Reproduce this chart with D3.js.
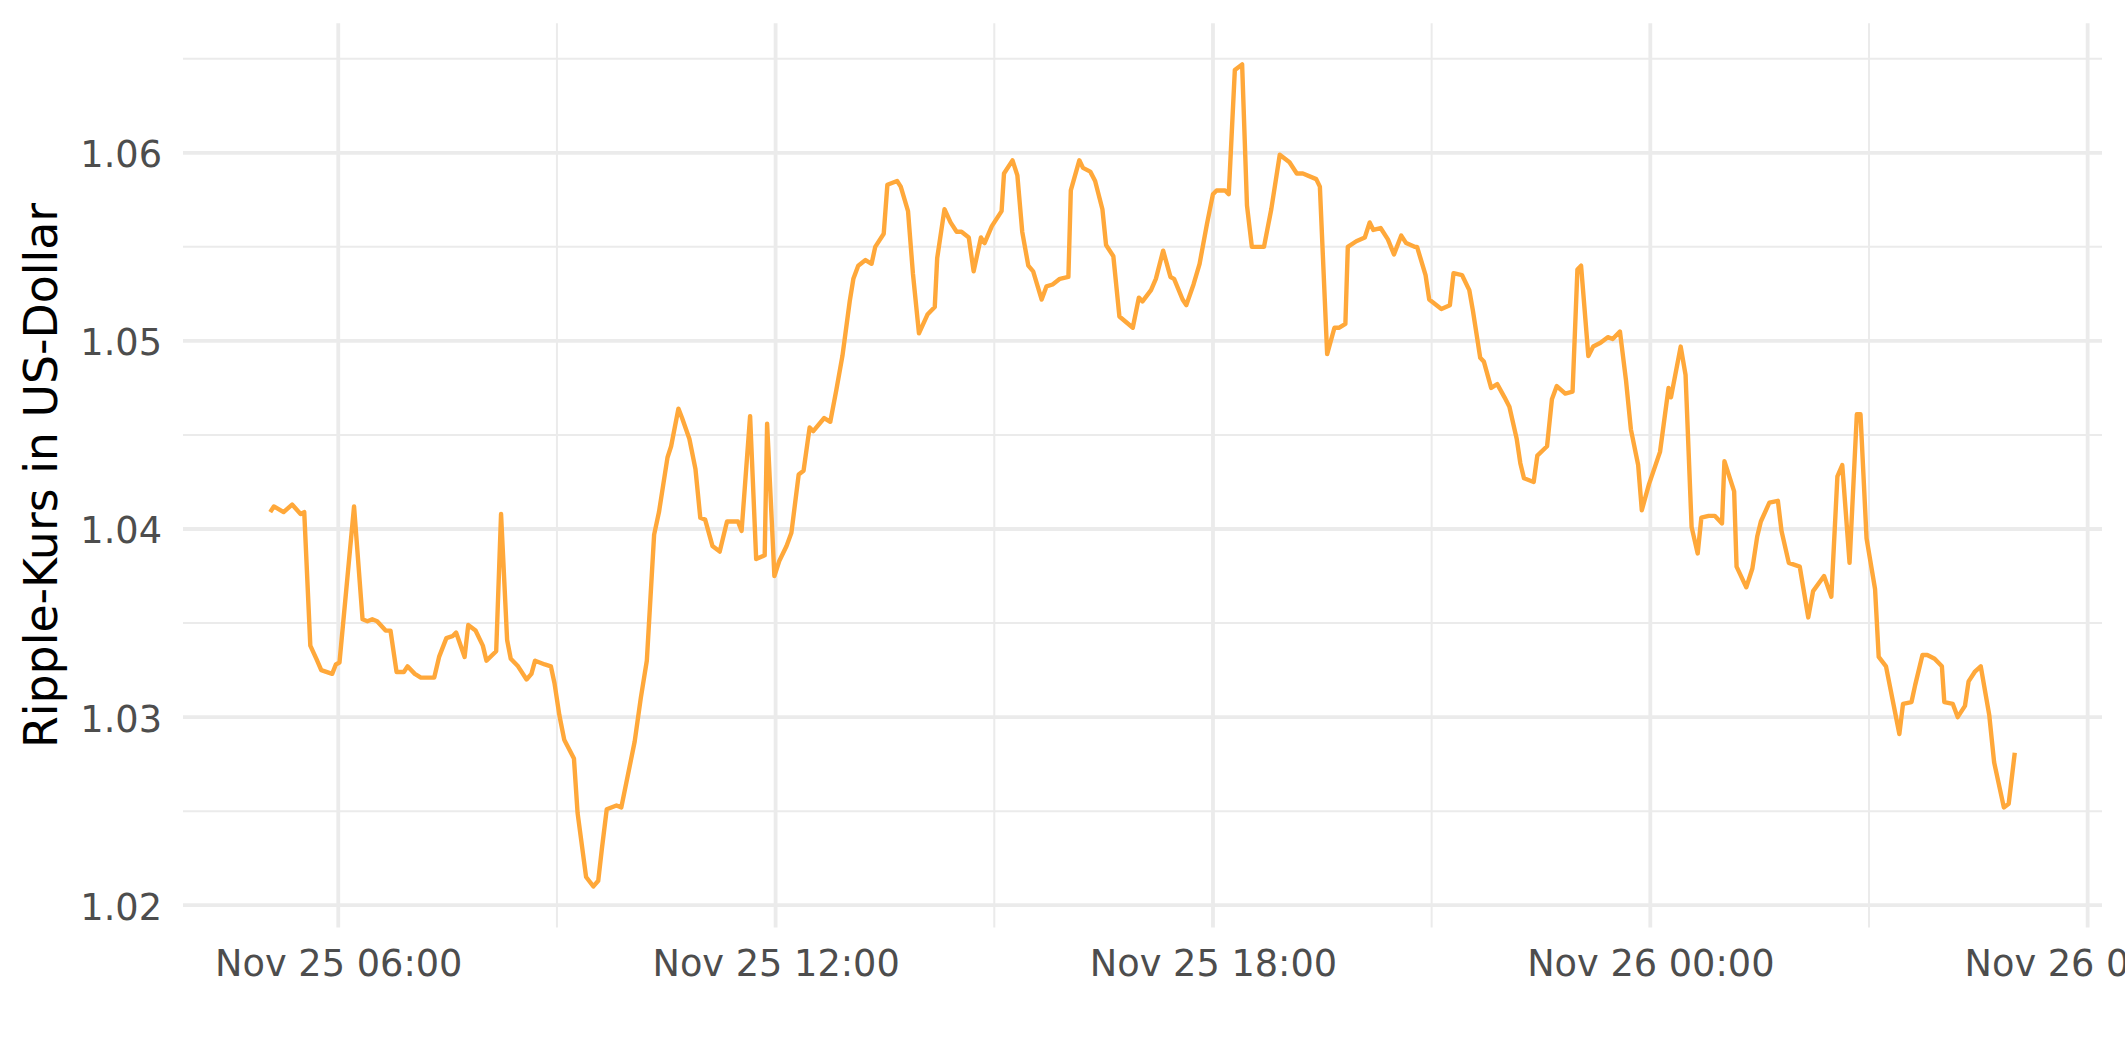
<!DOCTYPE html>
<html>
<head>
<meta charset="utf-8">
<script src="https://cdn.jsdelivr.net/npm/d3@7"></script>
<style>
  html, body { margin: 0; padding: 0; background: #ffffff; }
  svg { display: block; }
</style>
</head>
<body>
<svg id="chart" width="2125" height="1062"></svg>
<script>
// ---- DATA ----
// minutes relative to Nov 25, 06:00
const offsetsMin = [
  -56,-53,-45,-38,-31,-28,-23,-18,-14,-5,-2,1,13,20,24,28,32,39,43,48,54,57,63,68,73,79,83,89,94,97,
  104,107,113,119,122,130,134,139,142,148,155,159,162,170,175,178,182,186,194,197,204,210,214,217,221,229,233,244,249,254,
  260,264,271,274,280,283,289,294,298,302,308,314,320,329,332,339,344,351,353,359,363,369,373,379,383,388,391,400,405,410,
  415,421,424,428,434,439,442,449,452,460,463,469,473,478,485,491,493,499,504,509,513,519,523,529,532,538,546,548,555,559,
  563,568,572,579,583,588,594,601,603,610,613,619,623,629,632,638,643,654,659,662,669,673,679,685,688,695,698,704,709,715,
  720,723,730,733,738,744,748,752,762,768,775,783,789,794,805,808,814,820,824,829,831,838,845,849,852,858,864,869,875,879,
  886,888,895,898,908,915,918,925,931,934,940,943,949,954,960,964,970,973,976,984,987,995,999,1003,1010,1016,1020,1023,1029,1033,
  1039,1045,1049,1055,1060,1064,1070,1073,1079,1088,1095,1097,1105,1109,1114,1119,1122,1128,1133,1139,1141,1149,1151,1159,1164,1168,1171,1178,1185,1188,
  1194,1203,1210,1214,1223,1229,1234,1238,1244,1250,1253,1258,1265,1268,1274,1285,1288,1295,1298,1304,1308,1314,1320,1322,1329,1333,1339,1342,1347,1352,
  1359,1363,1371,1375,1380
];
const price = [
  1.0409,1.0412,1.0409,1.0413,1.0408,1.0409,1.0338,1.0331,1.0325,1.0323,1.0328,1.0329,1.0412,1.0352,1.0351,1.0352,1.0351,1.0346,1.0346,1.0324,1.0324,1.0327,1.0323,1.0321,1.0321,1.0321,1.0332,1.0342,1.0343,1.0345,
  1.0332,1.0349,1.0346,1.0338,1.0330,1.0335,1.0408,1.0341,1.0331,1.0327,1.0320,1.0323,1.0330,1.0328,1.0327,1.0318,1.0301,1.0288,1.0278,1.0249,1.0215,1.0210,1.0213,1.0230,1.0251,1.0253,1.0252,1.0287,1.0310,1.0330,
  1.0397,1.0409,1.0438,1.0444,1.0464,1.0459,1.0448,1.0432,1.0406,1.0405,1.0391,1.0388,1.0404,1.0404,1.0399,1.0460,1.0384,1.0386,1.0456,1.0375,1.0383,1.0391,1.0398,1.0429,1.0431,1.0454,1.0452,1.0459,1.0457,1.0474,
  1.0492,1.0521,1.0533,1.0540,1.0543,1.0541,1.0550,1.0557,1.0583,1.0585,1.0582,1.0569,1.0536,1.0504,1.0514,1.0518,1.0544,1.0570,1.0563,1.0558,1.0558,1.0555,1.0537,1.0555,1.0552,1.0561,1.0569,1.0589,1.0596,1.0588,
  1.0558,1.0540,1.0537,1.0522,1.0529,1.0530,1.0533,1.0534,1.0580,1.0596,1.0592,1.0590,1.0585,1.0570,1.0551,1.0545,1.0513,1.0507,1.0523,1.0521,1.0527,1.0533,1.0548,1.0534,1.0533,1.0522,1.0519,1.0530,1.0541,1.0562,
  1.0578,1.0580,1.0580,1.0578,1.0644,1.0647,1.0572,1.0550,1.0550,1.0570,1.0599,1.0595,1.0589,1.0589,1.0586,1.0582,1.0493,1.0507,1.0507,1.0509,1.0550,1.0553,1.0555,1.0563,1.0559,1.0560,1.0554,1.0546,1.0556,1.0552,
  1.0550,1.0550,1.0535,1.0522,1.0517,1.0519,1.0536,1.0535,1.0527,1.0516,1.0491,1.0489,1.0475,1.0477,1.0470,1.0465,1.0448,1.0435,1.0427,1.0425,1.0439,1.0444,1.0469,1.0476,1.0472,1.0473,1.0538,1.0540,1.0492,1.0497,
  1.0499,1.0502,1.0501,1.0505,1.0479,1.0453,1.0434,1.0410,1.0424,1.0441,1.0475,1.0470,1.0497,1.0482,1.0401,1.0387,1.0406,1.0407,1.0407,1.0403,1.0436,1.0420,1.0380,1.0369,1.0379,1.0396,1.0404,1.0414,1.0415,1.0399,
  1.0382,1.0380,1.0353,1.0367,1.0375,1.0364,1.0428,1.0434,1.0382,1.0461,1.0461,1.0395,1.0368,1.0332,1.0327,1.0291,1.0307,1.0308,1.0317,1.0333,1.0333,1.0331,1.0327,1.0308,1.0307,1.0300,1.0306,1.0319,1.0324,1.0327,
  1.0301,1.0276,1.0252,1.0254,1.0281
];
const yMajorTicks = [1.02, 1.03, 1.04, 1.05, 1.06];
const yMinorTicks = [1.025, 1.035, 1.045, 1.055, 1.065];
const xMajorTicks = ["2024-11-25T06:00", "2024-11-25T12:00", "2024-11-25T18:00", "2024-11-26T00:00", "2024-11-26T06:00"];
const xMinorTicks = ["2024-11-25T09:00", "2024-11-25T15:00", "2024-11-25T21:00", "2024-11-26T03:00"];
const yTitle = "Ripple-Kurs in US-Dollar";

// ---- BUILD ----
const baseTime = new Date(2024, 10, 25, 6, 0).getTime();
const data = offsetsMin.map((m, i) => ({ t: new Date(baseTime + m * 60000), v: price[i] }));
const parseT = d3.timeParse("%Y-%m-%dT%H:%M");

const panel = { left: 183, right: 2102, top: 23.3, bottom: 927.5 };
function expand(ext) { const d = (ext[1] - ext[0]) * 0.05; return [ext[0] - d, ext[1] + d]; }

const tExt = d3.extent(data, d => d.t.getTime());
const tDom = expand(tExt);
const x = d3.scaleTime().domain([new Date(tDom[0]), new Date(tDom[1])]).range([panel.left, panel.right]);
const y = d3.scaleLinear().domain(expand(d3.extent(data, d => d.v))).range([panel.bottom, panel.top]);

const svg = d3.select("#chart");
svg.append("rect").attr("width", 2125).attr("height", 1062).attr("fill", "#ffffff");

const grid = svg.append("g");
const gridColor = "#EBEBEB";
// minor grid
grid.selectAll(".yminor").data(yMinorTicks).join("line")
  .attr("x1", panel.left).attr("x2", panel.right)
  .attr("y1", d => y(d)).attr("y2", d => y(d))
  .attr("stroke", gridColor).attr("stroke-width", 2);
grid.selectAll(".xminor").data(xMinorTicks.map(parseT)).join("line")
  .attr("y1", panel.top).attr("y2", panel.bottom)
  .attr("x1", d => x(d)).attr("x2", d => x(d))
  .attr("stroke", gridColor).attr("stroke-width", 2);
// major grid
grid.selectAll(".ymajor").data(yMajorTicks).join("line")
  .attr("x1", panel.left).attr("x2", panel.right)
  .attr("y1", d => y(d)).attr("y2", d => y(d))
  .attr("stroke", gridColor).attr("stroke-width", 3.8);
grid.selectAll(".xmajor").data(xMajorTicks.map(parseT)).join("line")
  .attr("y1", panel.top).attr("y2", panel.bottom)
  .attr("x1", d => x(d)).attr("x2", d => x(d))
  .attr("stroke", gridColor).attr("stroke-width", 3.8);

// line
svg.append("path")
  .datum(data)
  .attr("fill", "none")
  .attr("stroke", "#FFA83A")
  .attr("stroke-width", 4.4)
  .attr("stroke-linejoin", "round")
  .attr("stroke-linecap", "butt")
  .attr("d", d3.line().x(d => x(d.t)).y(d => y(d.v)));

// axes (text only, ggplot minimal style)
const fontFam = "'DejaVu Sans', 'Liberation Sans', sans-serif";
const yAxis = svg.append("g").attr("transform", `translate(${panel.left},0)`)
  .call(d3.axisLeft(y).tickValues(yMajorTicks).tickSize(0).tickPadding(21).tickFormat(d3.format(".2f")));
yAxis.select(".domain").remove();
yAxis.selectAll("text").attr("dy", "0.38em").attr("fill", "#4D4D4D")
  .style("font-family", fontFam).style("font-size", "36.7px");

const xAxis = svg.append("g").attr("transform", `translate(0,${panel.bottom})`)
  .call(d3.axisBottom(x).tickValues(xMajorTicks.map(parseT)).tickSize(0).tickFormat(d3.timeFormat("%b %d %H:%M")));
xAxis.select(".domain").remove();
xAxis.selectAll("text").attr("y", 48.5).attr("dy", 0).attr("fill", "#4D4D4D")
  .style("font-family", fontFam).style("font-size", "36.7px");

// y title
svg.append("text")
  .attr("transform", `translate(57,${(panel.top + panel.bottom) / 2}) rotate(-90)`)
  .attr("text-anchor", "middle")
  .attr("fill", "#000000")
  .style("font-family", fontFam).style("font-size", "45.8px")
  .text(yTitle);
</script>
</body>
</html>
